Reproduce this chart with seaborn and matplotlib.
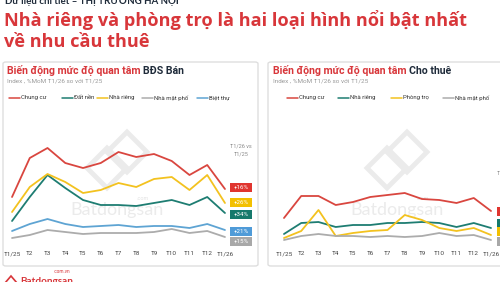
import matplotlib
matplotlib.use("Agg")
import matplotlib.pyplot as plt
import seaborn as sns
import pandas as pd
from matplotlib.patches import FancyBboxPatch, Rectangle, Polygon
from matplotlib.lines import Line2D

# ---------------- data ----------------
months = ["T1/25", "T2", "T3", "T4", "T5", "T6", "T7", "T8", "T9", "T10", "T11", "T12", "T1/26"]

sale_series = ["Chung cư", "Đất nền", "Nhà riêng", "Nhà mặt phố", "Biệt thự"]
sale_chung_cu = [53, 92, 102, 87, 82, 87, 98, 93, 96, 89, 75, 85, 61]
sale_dat_nen = [29, 53, 75, 62, 50, 45, 45, 44, 47, 50, 45, 53, 37]
sale_nha_rieng = [38, 63, 76, 68, 57, 60, 67, 63, 71, 73, 60, 75, 47]
sale_nha_mat_pho = [12, 15, 20, 18, 16, 17, 17, 17, 18, 21, 17, 19, 13]
sale_biet_thu = [19, 26, 31, 26, 23, 24, 25, 23, 24, 24, 22, 26, 20]
sale_labels = ["+16%", "+26%", "+34%", "+21%", "+15%"]

rent_series = ["Chung cư", "Nhà riêng", "Phòng trọ", "Nhà mặt phố"]
rent_chung_cu = [32, 54, 54, 45, 48, 53, 55, 57, 51, 50, 47, 52, 39]
rent_nha_rieng = [16, 27, 28, 23, 25, 25, 27, 27, 28, 27, 23, 27, 22]
rent_phong_tro = [12, 19, 40, 14, 17, 19, 20, 35, 30, 22, 19, 22, 15]
rent_nha_mat_pho = [10, 14, 16, 14, 14, 13, 14, 13, 14, 17, 14, 15, 10]

# ---------------- style ----------------
RED = "#d9463f"
YELLOW = "#f3c21f"
TEAL = "#1e7d72"
BLUE = "#5ea4d3"
GRAY = "#acacac"
TITLE_RED = "#d8363a"
DARK = "#1f2b3a"

sns.set_theme(style="white")
plt.rcParams["font.family"] = ["Roboto", "DejaVu Sans"]

W, H = 500, 282
fig = plt.figure(figsize=(W / 100, H / 100), dpi=100)
fig.patch.set_facecolor("white")


def fx(x):
    return x / W


def fy(y):
    return 1 - y / H


# header texts
fig.text(fx(5), fy(4), "Dữ liệu chi tiết – THỊ TRƯỜNG HÀ NỘI", fontsize=7, fontweight="bold",
         color=DARK, va="baseline", ha="left", family=["Lato", "DejaVu Sans"])
fig.text(fx(4), fy(26), "Nhà riêng và phòng trọ là hai loại hình nổi bật nhất", fontsize=13.1,
         fontweight="bold", color=TITLE_RED, va="baseline", ha="left", family=["Open Sans", "DejaVu Sans"])
fig.text(fx(4), fy(47), "về nhu cầu thuê", fontsize=13.1, fontweight="bold", color=TITLE_RED,
         va="baseline", ha="left", family=["Open Sans", "DejaVu Sans"])

# panel boxes
for (x0, x1) in [(3, 258), (268, 520)]:
    fig.patches.append(FancyBboxPatch((fx(x0), fy(266)), fx(x1) - fx(x0), fy(62) - fy(266),
                                      boxstyle="round,pad=0,rounding_size=0.006",
                                      transform=fig.transFigure, facecolor="white",
                                      edgecolor="#dedede", linewidth=1.0, zorder=-2))


def watermark(cx):
    # faint logo shapes and text
    s = 20
    for dx, dy in [(-10, 8), (10, -8)]:
        pts = [(cx + dx, 160 + dy - s), (cx + dx + s, 160 + dy), (cx + dx, 160 + dy + s), (cx + dx - s, 160 + dy)]
        fig.patches.append(Polygon([(fx(a), fy(b)) for a, b in pts], closed=True, fill=False,
                                   edgecolor="#ebebeb", linewidth=3.5, transform=fig.transFigure, zorder=-1))
    fig.text(fx(cx), fy(210), "Batdongsan", fontsize=13, color="#ebebeb", ha="center", va="center",
             family=["Lato", "DejaVu Sans"], zorder=-1)
    fig.text(fx(cx + 26), fy(199), ".com", fontsize=4, color="#e2e2e2", ha="center", va="center", zorder=-1)


watermark(117)
watermark(397)


def panel(left_px, right_px, title_b, series, values, colors, legend_x, title_x):
    # axes mapping: x data -0.3..12.3, y pixel 140..245 -> 110..5
    ax = fig.add_axes([fx(left_px), fy(245), fx(right_px) - fx(left_px), fy(140) - fy(245)])
    ax.set_facecolor("none")
    ax.set_zorder(2)
    rows = []
    for name, vals in zip(series, values):
        for i, v in enumerate(vals):
            rows.append({"month": i, "value": v, "series": name})
    df = pd.DataFrame(rows)
    sns.lineplot(data=df, x="month", y="value", hue="series", hue_order=series,
                 palette=dict(zip(series, colors)), linewidth=1.3, ax=ax, legend=False,
                 solid_joinstyle="round", solid_capstyle="round")
    ax.set_xlim(-0.3, 12.3)
    ax.set_ylim(5, 110)
    ax.set_xticks(range(len(months)))
    ax.set_xticklabels(months, fontsize=4.6, color="#444444")
    ax.tick_params(axis="x", length=0, pad=4.5)
    ax.set_yticks([])
    ax.set_xlabel("")
    ax.set_ylabel("")
    for sp in ax.spines.values():
        sp.set_visible(False)
    # titles
    t1 = fig.text(fx(title_x), fy(71), "Biến động mức độ quan tâm ", fontsize=7.6, fontweight="bold",
                  color=TITLE_RED, va="center", ha="left")
    fig.canvas.draw()
    bb = t1.get_window_extent()
    fig.text(bb.x1 / fig.bbox.width, fy(71), title_b, fontsize=7.6, fontweight="bold", color=DARK,
             va="center", ha="left")
    fig.text(fx(title_x), fy(81), "Index , %MoM T1/26 so với T1/25", fontsize=4.6, color="#9a9a9a",
             va="center", ha="left")
    # legend
    for name, c, lx in zip(series, colors, legend_x):
        fig.lines.append(Line2D([fx(lx), fx(lx + 11)], [fy(98), fy(98)], color=c, linewidth=1.1,
                                transform=fig.transFigure))
        fig.text(fx(lx + 12), fy(98), name, fontsize=4.3, color="#333333", va="center", ha="left")
    return ax


ax1 = panel(6.7, 230.3, "BĐS Bán", sale_series,
            [sale_chung_cu, sale_dat_nen, sale_nha_rieng, sale_nha_mat_pho, sale_biet_thu],
            [RED, TEAL, YELLOW, GRAY, BLUE], [9, 62, 97, 142, 197], 7)
ax2 = panel(278.8, 496.2, "Cho thuê", rent_series,
            [rent_chung_cu, rent_nha_rieng, rent_phong_tro, rent_nha_mat_pho],
            [RED, TEAL, YELLOW, GRAY], [287, 338, 391, 443], 273)

# "T1/26 vs T1/25" notes
fig.text(fx(241), fy(146), "T1/26 vs", fontsize=4, color="#8a8a8a", ha="center", va="center")
fig.text(fx(241), fy(154), "T1/25", fontsize=4, color="#8a8a8a", ha="center", va="center")
fig.text(fx(497), fy(173), "T1/26 vs", fontsize=4, color="#8a8a8a", ha="left", va="center")

# change labels (left panel)
label_colors = ["#e0352f", "#f3c000", "#16796c", "#4f9bd8", "#a8a8a8"]
label_y = [187, 202, 214, 231, 241]
for txt, c, yy in zip(sale_labels, label_colors, label_y):
    fig.patches.append(Rectangle((fx(230), fy(yy + 4.5)), fx(22), fy(yy - 4.5) - fy(yy + 4.5),
                                 transform=fig.transFigure, facecolor=c, edgecolor="none", zorder=3))
    fig.text(fx(241), fy(yy), txt, fontsize=4.4, color="white", ha="center", va="center", zorder=4)

# right panel labels (cut off by the image edge)
for c, yy in zip(["#e0352f", "#16796c", "#f3c000", "#a8a8a8"], [211, 223, 231, 241]):
    fig.patches.append(Rectangle((fx(497), fy(yy + 4.5)), fx(22), fy(yy - 4.5) - fy(yy + 4.5),
                                 transform=fig.transFigure, facecolor=c, edgecolor="none", zorder=3))

# footer logo
fig.text(fx(20), fy(284), "Batdongsan", fontsize=7.2, fontweight="bold", color=TITLE_RED,
         ha="left", va="baseline", family=["Lato", "DejaVu Sans"])
fig.text(fx(54), fy(273), ".com.vn", fontsize=3.3, color=TITLE_RED, ha="left", va="baseline")
fig.patches.append(Polygon([(fx(5), fy(283)), (fx(11), fy(276)), (fx(17), fy(283))], closed=False,
                           fill=False, edgecolor=TITLE_RED, linewidth=1.2, transform=fig.transFigure))

fig.savefig("out.png", dpi=100, facecolor="white")
